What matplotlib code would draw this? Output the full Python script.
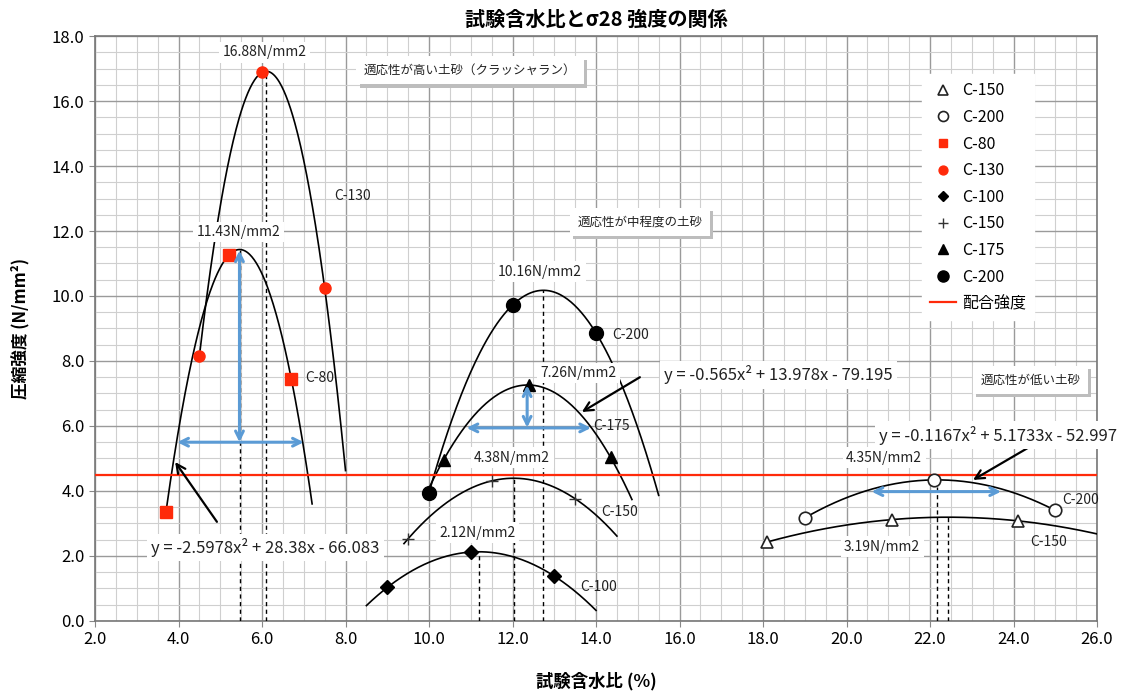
import numpy as np
import matplotlib
matplotlib.use('Agg')
import matplotlib.pyplot as plt
import matplotlib.patheffects as pe

plt.rcParams['font.family'] = ['Noto Sans CJK JP', 'DejaVu Sans']

# ---------------- data ----------------
c80_x = [3.7, 5.2, 6.7]
c80_y = [3.36, 11.25, 7.46]
c130_x = [4.5, 6.0, 7.5]
c130_y = [8.15, 16.88, 10.25]
c100_x = [9.0, 11.0, 13.0]
c100_y = [1.03, 2.12, 1.38]
c150m_x = [9.5, 11.5, 13.5]
c150m_y = [2.53, 4.31, 3.76]
c175_x = [10.35, 12.4, 14.35]
c175_y = [4.96, 7.26, 5.03]
c200m_x = [10.0, 12.0, 14.0]
c200m_y = [3.95, 9.72, 8.86]
c200r_x = [19.0, 22.1, 25.0]
c200r_y = [3.17, 4.34, 3.40]
c150r_x = [18.1, 21.1, 24.1]
c150r_y = [2.43, 3.12, 3.08]

# trendline x-ranges
c80_rng = (3.7, 7.2)
c130_rng = (4.5, 8.0)
c100_rng = (8.5, 14.0)
c150m_rng = (9.4, 14.5)
c175_rng = (10.0, 14.86)
c200m_rng = (10.0, 15.5)
c200r_rng = (19.0, 25.0)
c150r_rng = (18.1, 26.0)

target_strength = 4.5

x_ticks = np.arange(2, 27, 2)
y_ticks = np.arange(0, 19, 2)

# ---------------- figure ----------------
fig = plt.figure(figsize=(11.31, 6.93), dpi=100)
ax = fig.add_axes([0.084, 0.104, 0.886, 0.844])
ax.set_xlim(2, 26)
ax.set_ylim(0, 18)
ax.set_xticks(x_ticks)
ax.set_yticks(y_ticks)
ax.set_xticklabels([f"{v:.1f}" for v in x_ticks], fontsize=12)
ax.set_yticklabels([f"{v:.1f}" for v in y_ticks], fontsize=12)
ax.set_xticks(np.arange(2, 26.01, 0.5), minor=True)
ax.set_yticks(np.arange(0, 18.01, 0.5), minor=True)
ax.grid(which='major', color='#9a9a9a', lw=1.0, zorder=0)
ax.grid(which='minor', color='#cfcfcf', lw=0.8, zorder=0)
ax.tick_params(which='minor', length=0)
ax.tick_params(which='major', length=4, color='#888888')
for s in ax.spines.values():
    s.set_color('#777777')
    s.set_linewidth(1.2)
ax.set_axisbelow(True)

ax.set_title('試験含水比とσ28 強度の関係', fontsize=14.5, fontweight='bold', pad=7)
ax.set_xlabel('試験含水比 (%)', fontsize=12.5, fontweight='bold', labelpad=17)
ax.set_ylabel('圧縮強度 (N/mm²)', fontsize=12, fontweight='bold', labelpad=16)


def trend(xs, ys, rng, dashed=True):
    p = np.polyfit(xs, ys, 2)
    xx = np.linspace(rng[0], rng[1], 200)
    ax.plot(xx, np.polyval(p, xx), color='black', lw=1.2, zorder=3)
    xv = -p[1] / (2 * p[0])
    yv = np.polyval(p, xv)
    if dashed:
        ax.plot([xv, xv], [0, yv], color='black', lw=1.0, ls=(0, (3, 2.5)), zorder=3)
    return xv, yv


trend(c80_x, c80_y, c80_rng)
trend(c130_x, c130_y, c130_rng)
trend(c100_x, c100_y, c100_rng)
trend(c150m_x, c150m_y, c150m_rng)
trend(c175_x, c175_y, c175_rng, dashed=False)
trend(c200m_x, c200m_y, c200m_rng)
trend(c200r_x, c200r_y, c200r_rng)
trend(c150r_x, c150r_y, c150r_rng)

red = '#ff2a0a'
h_c150r, = ax.plot(c150r_x, c150r_y, ls='none', marker='^', ms=9, mfc='white', mec='#222222', mew=1.2, zorder=5, label='C-150')
h_c200r, = ax.plot(c200r_x, c200r_y, ls='none', marker='o', ms=9, mfc='white', mec='#222222', mew=1.2, zorder=5, label='C-200')
h_c80, = ax.plot(c80_x, c80_y, ls='none', marker='s', ms=8, color=red, zorder=5, label='C-80')
h_c130, = ax.plot(c130_x, c130_y, ls='none', marker='o', ms=8, color=red, zorder=5, label='C-130')
h_c100, = ax.plot(c100_x, c100_y, ls='none', marker='D', ms=7, color='black', zorder=5, label='C-100')
h_c150m, = ax.plot(c150m_x, c150m_y, ls='none', marker='+', ms=9, color='#333333', mew=1.0, zorder=5, label='C-150')
h_c175, = ax.plot(c175_x, c175_y, ls='none', marker='^', ms=9, color='black', zorder=5, label='C-175')
h_c200m, = ax.plot(c200m_x, c200m_y, ls='none', marker='o', ms=10, color='black', zorder=5, label='C-200')
h_red = ax.axhline(target_strength, color=red, lw=1.6, zorder=4, label='配合強度')

leg = ax.legend(handles=[h_c150r, h_c200r, h_c80, h_c130, h_c100, h_c150m, h_c175, h_c200m, h_red],
                loc='upper right', bbox_to_anchor=(0.945, 0.948), frameon=True, fontsize=11.5,
                labelspacing=0.6, handlelength=1.6, handletextpad=0.4, borderpad=0.5,
                fancybox=False, markerscale=0.8)
leg.get_frame().set_edgecolor('white')
leg.get_frame().set_facecolor('white')
leg.get_frame().set_alpha(1.0)

# blue arrows
blue = '#5b9bd5'
def barrow(x0, y0, x1, y1):
    ax.annotate('', xy=(x1, y1), xytext=(x0, y0),
                arrowprops=dict(arrowstyle='<->', color=blue, lw=2.2,
                                mutation_scale=14, shrinkA=0, shrinkB=0), zorder=6)

barrow(5.46, 11.4, 5.46, 5.5)
barrow(3.97, 5.5, 7.0, 5.5)
barrow(12.35, 7.25, 12.35, 5.95)
barrow(10.9, 5.94, 13.88, 5.94)
barrow(20.6, 3.98, 23.7, 3.98)

# black pointer arrows
def karrow(x0, y0, x1, y1):
    ax.annotate('', xy=(x1, y1), xytext=(x0, y0),
                arrowprops=dict(arrowstyle='->', color='black', lw=1.6,
                                mutation_scale=16, shrinkA=0, shrinkB=0), zorder=6)

karrow(4.92, 3.05, 3.92, 4.89)
karrow(15.05, 7.5, 13.66, 6.43)
karrow(24.47, 5.42, 23.03, 4.34)

wb = dict(boxstyle='square,pad=0.25', fc='white', ec='none')

def label(x, y, s, ha='center', fs=10, box=True):
    ax.text(x, y, s, ha=ha, va='center', fontsize=fs, color='#222222',
            bbox=wb if box else None, zorder=7)

label(6.07, 17.5, '16.88N/mm2')
label(5.43, 11.97, '11.43N/mm2')
label(12.66, 10.74, '10.16N/mm2')
label(13.57, 7.63, '7.26N/mm2')
label(11.99, 5.02, '4.38N/mm2')
label(11.17, 2.71, '2.12N/mm2')
label(20.9, 5.02, '4.35N/mm2')
label(20.85, 2.28, '3.19N/mm2')

label(8.16, 13.08, 'C-130', box=False)
label(7.03, 7.48, 'C-80', ha='left', box=False)
label(14.38, 8.8, 'C-200', ha='left', box=False)
label(13.93, 6.0, 'C-175', ha='left', box=False)
label(14.12, 3.35, 'C-150', ha='left', box=False)
label(13.62, 1.05, 'C-100', ha='left', box=False)
label(25.16, 3.72, 'C-200', ha='left', box=False)
label(24.4, 2.43, 'C-150', ha='left', box=False)

label(6.08, 2.25, 'y = -2.5978x² + 28.38x - 66.083', fs=12)
label(18.36, 7.57, 'y = -0.565x² + 13.978x - 79.195', fs=12)
label(23.63, 5.72, 'y = -0.1167x² + 5.1733x - 52.997', fs=12)

def shadow_box(x, y, s):
    t = ax.text(x, y, s, ha='center', va='center', fontsize=9, color='#222222',
                bbox=dict(boxstyle='square,pad=0.6', fc='white', ec='none'), zorder=8)
    t.get_bbox_patch().set_path_effects([
        pe.SimplePatchShadow(offset=(2.5, -2.5), shadow_rgbFace='#bdbdbd', alpha=1.0),
        pe.Normal()])

shadow_box(10.98, 16.95, '適応性が高い土砂（クラッシャラン）')
shadow_box(15.05, 12.28, '適応性が中程度の土砂')
shadow_box(24.4, 7.42, '適応性が低い土砂')

fig.savefig('out.png', dpi=100)
